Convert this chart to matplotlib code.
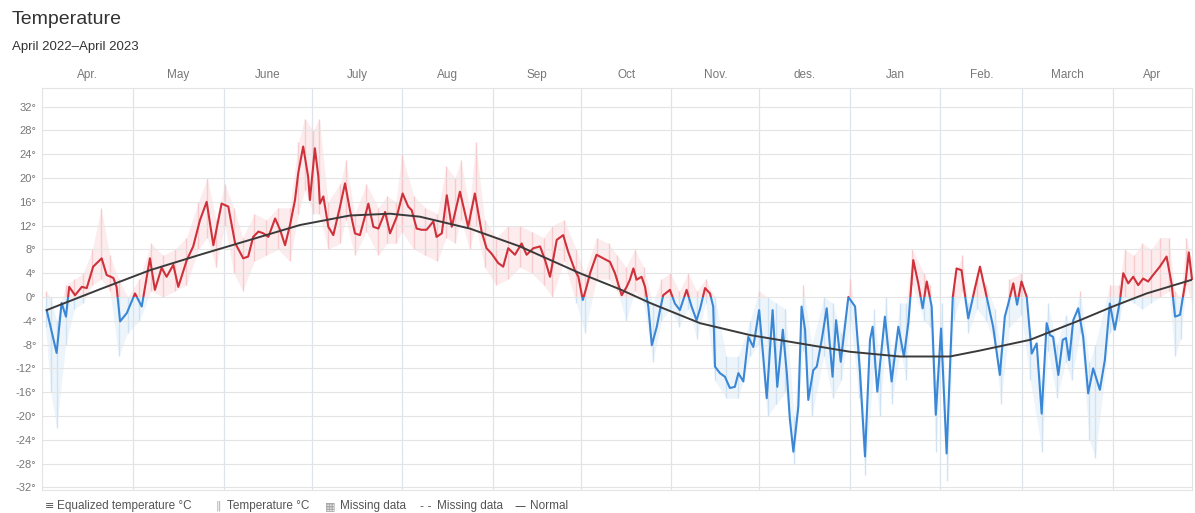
import numpy as np
import pandas as pd
import matplotlib
matplotlib.use("Agg")
import matplotlib.pyplot as plt
from matplotlib.patches import Rectangle

plt.rcParams['font.family'] = ['Liberation Sans', 'DejaVu Sans']

start = pd.Timestamp('2022-04-01')

# Equalized temperature (days after 1 April 2022, degrees C)
eq_day = [0.4, 3.8, 5.5, 7.0, 8.1, 10.1, 12.4, 14.1, 16.3, 19.2, 20.9, 23.2, 24.3, 25.5, 27.8,
          30.6, 32.9, 35.7, 37.4, 39.7, 41.4, 43.7, 45.4, 48.3, 50.5, 52.8, 55.1, 57.4, 60.2, 62.5,
          64.8, 67.6, 69.3, 71.0, 72.8, 74.5, 76.2, 78.5, 80.2, 81.9, 83.6, 85.3, 86.4, 88.1, 89.8,
          90.4, 92.1, 93.3, 93.8, 95.0, 96.7, 98.4, 100.7, 102.4, 104.1, 105.8, 107.5, 110.4, 112.1,
          113.8, 116.1, 117.8, 120.1, 122.1, 124.0, 125.2, 126.9, 128.6, 130.3, 132.6, 133.7, 135.5,
          137.2, 138.9, 141.7, 144.5, 146.8, 149.1, 150.8, 152.5, 154.8, 156.5, 158.2, 160.5, 162.8,
          164.5, 166.8, 169.1, 170.8, 172.5, 174.8, 177.0, 178.7, 181.0, 182.2, 183.7, 185.0, 186.2,
          188.4, 190.7, 193.0, 194.7, 197.0, 198.7, 199.8, 201.0, 202.1, 203.8, 205.0, 206.1, 207.3,
          209.0, 210.1, 211.2, 213.5, 215.2, 216.9, 219.2, 220.9, 222.6, 223.8, 225.5, 227.2, 228.3,
          228.9, 230.6, 232.3, 234.0, 235.7, 236.9, 238.6, 240.3, 242.0, 244.0, 245.4, 246.6, 248.6,
          250.2, 252.1, 253.5, 254.5, 255.7, 257.4, 258.5, 259.7, 260.8, 262.5, 263.7, 265.4, 267.1,
          269.1, 270.3, 271.9, 274.5, 276.8, 278.5, 280.2, 281.9, 282.8, 284.4, 287.0, 289.3, 291.6,
          293.5, 295.0, 296.7, 298.4, 299.9, 301.3, 303.0, 304.4, 306.2, 308.1, 310.2, 311.5, 313.2,
          315.5, 317.8, 319.5, 321.8, 324.0, 326.3, 328.0, 329.2, 330.9, 332.2, 333.7, 335.5, 337.2,
          338.9, 340.6, 342.3, 343.4, 344.5, 346.3, 347.8, 348.9, 350.0, 351.4, 353.1, 354.8, 356.5,
          358.2, 360.5, 362.2, 363.9, 365.6, 367.4, 368.5, 370.2, 371.9, 373.6, 375.3, 377.0, 378.7,
          381.0, 383.3, 385.0, 386.2, 387.9, 389.9, 390.9, 392.0]
eq_temp = [-2.2, -9.4, -1.0, -3.3, 1.7, 0.3, 1.7, 1.5, 5.1, 6.5, 3.7, 3.2, 1.7, -4.1, -2.7,
           0.6, -1.6, 6.5, 1.2, 4.9, 3.4, 5.4, 1.7, 6.2, 8.5, 12.9, 16.0, 8.7, 15.7, 15.2,
           9.1, 6.5, 6.8, 10.1, 11.0, 10.7, 10.1, 13.2, 11.3, 8.7, 12.1, 16.3, 20.8, 25.3, 20.2,
           16.3, 25.0, 20.2, 15.7, 16.9, 11.8, 10.4, 15.2, 19.1, 14.6, 10.7, 10.4, 15.7, 11.8,
           11.5, 14.3, 10.7, 13.5, 17.4, 15.2, 14.6, 11.5, 11.3, 11.3, 12.7, 10.1, 10.7,
           17.1, 11.8, 17.7, 11.8, 17.4, 11.0, 8.2, 7.3, 5.7, 5.1, 8.2, 7.1, 9.0,
           7.1, 8.2, 8.5, 6.2, 3.4, 9.6, 10.4, 7.6, 4.5, 3.4, -0.5, 1.7, 4.0,
           7.1, 6.5, 5.9, 4.0, 0.3, 1.7, 2.9, 4.8, 2.9, 3.4, 1.7, -1.6, -8.1,
           -5.0, -2.2, 0.3, 1.2, -1.1, -2.2, 1.2, -1.6, -3.9, -2.0, 1.5, 0.6, -1.6,
           -11.7, -12.8, -13.4, -15.3, -15.1, -12.8, -14.2, -6.7, -8.4, -2.2, -10.0, -17.0, -2.2,
           -15.1, -5.5, -13.0, -20.5, -26.0, -18.4, -1.6, -5.5, -17.3, -12.3, -11.7, -7.2, -1.9,
           -13.4, -3.9, -10.9, 0.0, -1.6, -12.8, -26.8, -7.2, -5.0, -15.9, -3.3, -14.2, -5.0,
           -10.0, -4.4, 6.2, 2.3, -1.9, 2.6, -1.6, -19.8, -5.3, -26.3, 0.0, 4.8, 4.5,
           -3.6, 1.5, 5.1, 0.0, -5.0, -13.1, -3.3, -1.1, 2.3, -1.3, 2.6, 0.0, -9.5,
           -7.8, -19.6, -4.4, -6.4, -6.7, -13.1, -7.2, -6.9, -10.6, -3.9, -1.9, -6.7, -16.2,
           -12.0, -15.6, -10.6, -1.1, -5.5, -0.5, 4.0, 2.3, 3.4, 2.0, 3.1, 2.6, 3.7,
           5.1, 6.8, 2.3, -3.3, -3.0, 3.0, 7.5, 3.0]

# Daily temperature range (faint band)
band_day = [0, 1.8, 3.8, 6.9, 9.9, 12.9, 16.0, 19.0, 22.0, 25.0,
            28.1, 32.1, 36.1, 40.2, 44.2, 48.2, 52.3, 55.3, 58.3, 61.3,
            64.4, 67.4, 71.4, 75.5, 79.5, 83.5, 86.5, 88.6, 91.6, 93.6,
            96.6, 100.7, 102.7, 105.7, 109.7, 113.8, 116.8, 119.8, 121.8, 125.9,
            129.9, 134.0, 137.0, 140.0, 142.0, 145.0, 147.1, 150.1, 154.1, 158.2,
            162.2, 166.2, 170.3, 173.3, 177.3, 181.4, 184.4, 188.4, 192.5, 195.5,
            198.5, 201.5, 204.5, 207.6, 210.6, 213.6, 216.7, 219.7, 222.7, 225.7,
            228.8, 232.8, 236.8, 240.9, 243.9, 246.9, 249.9, 253.0, 256.0, 259.0,
            262.0, 266.1, 269.1, 272.1, 275.2, 278.2, 280.2, 283.2, 285.2, 287.3,
            289.3, 292.3, 294.3, 296.3, 300.4, 302.4, 304.4, 306.4, 308.4, 310.5,
            313.5, 315.5, 318.5, 321.6, 324.6, 326.6, 329.6, 333.7, 336.7, 340.7,
            342.7, 345.8, 348.8, 350.8, 353.8, 356.9, 358.9, 363.9, 367.0, 369.0,
            372.0, 375.0, 378.0, 381.1, 384.1, 386.1, 388.1, 390.1, 392.0]
band_hi = [1, 0, -4, 2, 3, 4, 8, 15, 7, 3,
           0, 3, 9, 7, 8, 10, 16, 20, 13, 19,
           15, 10, 14, 13, 15, 15, 26, 30, 28, 30,
           16, 19, 23, 14, 19, 15, 17, 16, 24, 17,
           15, 14, 22, 20, 23, 15, 26, 13, 10, 12,
           12, 11, 10, 12, 13, 8, 4, 10, 9, 7,
           5, 8, 5, -1, 3, 4, 1, 4, 1, 3,
           0, -10, -10, -4, 1, 0, -1, -2, -20, 2,
           -8, 0, -1, -6, 3, -8, -22, -2, -12, 0,
           -10, -1, -1, 8, 4, 2, -14, -1, -22, 3,
           7, -1, 4, 2, -2, -9, 3, 4, -6, -14,
           -1, -8, -3, -5, 1, -11, -8, 2, 2, 8,
           7, 9, 8, 10, 10, 1, 0, 10, 6]
band_lo = [-5, -16, -22, -8, -2, -1, 2, 3, 1, -10,
           -6, -4, 1, 0, 1, 2, 8, 10, 5, 12,
           4, 1, 6, 7, 8, 6, 14, 18, 14, 14,
           8, 9, 13, 7, 11, 7, 9, 9, 11, 8,
           7, 6, 10, 9, 13, 8, 12, 5, 2, 3,
           5, 4, 2, 0, 6, -1, -6, 3, 3, 1,
           -4, 1, -1, -11, -4, -2, -5, -2, -7, -1,
           -14, -17, -17, -10, -8, -20, -18, -16, -28, -9,
           -20, -10, -17, -14, -4, -17, -30, -12, -20, -8,
           -18, -9, -14, 2, -4, -5, -26, -10, -31, -4,
           1, -6, -2, -4, -8, -18, -5, -3, -14, -26,
           -9, -17, -11, -14, -6, -24, -27, -6, -4, 0,
           -1, -2, -1, 0, 1, -10, -7, 2, -1]

# Normal temperature
normal_day = [0.4, 18.6, 35.7, 52.8, 69.9, 87.0, 104.1, 117.8, 128.0, 145.1, 162.2, 182.7, 196.4,
              206.7, 223.8, 240.9, 257.9, 275.0, 292.1, 309.2, 319.5, 336.6, 353.7, 364.9, 376.5, 392.0]
normal_temp = [-2.2, 1.3, 4.5, 7.1, 9.6, 12.1, 13.7, 14.0, 13.5, 11.5, 8.5, 4.0, 1.3,
               -1.0, -4.4, -6.4, -7.8, -9.2, -10.0, -10.0, -9.0, -7.2, -3.9, -1.6, 0.6, 2.9]

month_labels = ['Apr.', 'May', 'June', 'July', 'Aug', 'Sep', 'Oct', 'Nov.', 'des.', 'Jan', 'Feb.', 'March', 'Apr']
y_ticks = list(range(-32, 33, 4))

RED = '#d0303a'
BLUE = '#3a87d6'
PINK = '#f6c3c6'
LIGHTBLUE = '#c6def4'

fig = plt.figure(figsize=(11.95, 5.13), dpi=100)
ax = fig.add_axes([42 / 1195, 1 - 490 / 513, 1150 / 1195, 402 / 513])
x_min, x_max = -1.2, 392.0
ax.set_xlim(x_min, x_max)
ax.set_ylim(-32.44, 35.13)


def clip_rect(above):
    if above:
        return Rectangle((x_min - 20, 0), 500, 100, transform=ax.transData)
    return Rectangle((x_min - 20, -100), 500, 100, transform=ax.transData)


# faint daily band
for above, col in [(True, PINK), (False, LIGHTBLUE)]:
    fb = ax.fill_between(band_day, band_lo, band_hi, color=col, alpha=0.3, lw=0, zorder=1)
    fb.set_clip_path(clip_rect(above))
    vl = ax.vlines(band_day, band_lo, band_hi, color=col, lw=1.0, alpha=0.8, zorder=1)
    vl.set_clip_path(clip_rect(above))

# equalized temperature, red above zero and blue below
for above, col in [(True, RED), (False, BLUE)]:
    ln, = ax.plot(eq_day, eq_temp, color=col, lw=1.5, zorder=3,
                  solid_joinstyle='round', solid_capstyle='round')
    ln.set_clip_path(clip_rect(above))

ax.plot(normal_day, normal_temp, color='#3a3a3a', lw=1.4, zorder=4)

# grid
ax.set_yticks(y_ticks)
ax.set_yticklabels([f"{v}\u00b0" for v in y_ticks])
ax.yaxis.grid(True, color='#e4e4e4', lw=0.8, zorder=0)
ax.set_xticks([])
ax.tick_params(axis='y', length=0, labelsize=8, colors='#777777', pad=4)
for s in ax.spines.values():
    s.set_color('#e4e4e4')
    s.set_linewidth(0.8)

months = pd.date_range('2022-04-01', '2023-04-01', freq='MS')
month_days = [(m - start).days for m in months]
for d in month_days[1:]:
    ax.axvline(d, color='#dfe4ea', lw=0.9, zorder=0)

bounds = [x_min] + month_days[1:] + [x_max]
for i, lab in enumerate(month_labels):
    mid = (bounds[i] + bounds[i + 1]) / 2
    ax.text(mid, 1 + 13 / 402, lab, transform=ax.get_xaxis_transform(),
            ha='center', va='center', fontsize=8.5, color='#777777')

# titles
fig.text(12 / 1195, 1 - 20 / 513, 'Temperature', fontsize=14, color='#333333', va='center')
fig.text(12 / 1195, 1 - 47 / 513, 'April 2022\u2013April 2023', fontsize=9.5, color='#333333', va='center')

# legend
legend_y = 1 - 506 / 513
items = [(45, '\u2261', '#555555', 57, 'Equalized temperature \u00b0C'),
         (216, '\u2016', '#aaaaaa', 227, 'Temperature \u00b0C'),
         (325, '\u25a6', '#999999', 340, 'Missing data'),
         (420, '- -', '#555555', 437, 'Missing data'),
         (514, '\u2014', '#333333', 530, 'Normal')]
for ix, icon, icol, tx, label in items:
    fig.text(ix / 1195, legend_y, icon, fontsize=8, color=icol, va='center',
             family=['DejaVu Sans'])
    fig.text(tx / 1195, legend_y, label, fontsize=8.5, color='#555555', va='center')

fig.savefig('out.png', dpi=100)
